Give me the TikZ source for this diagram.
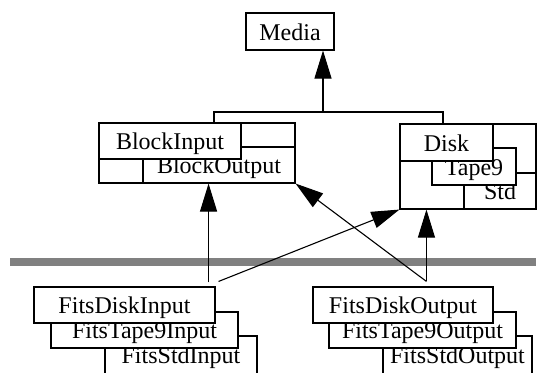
\documentclass[tikz,border=0pt]{standalone}
\usepackage{fontspec}
\setmainfont{Liberation Serif}
\usetikzlibrary{arrows.meta,calc}
\begin{document}
\begin{tikzpicture}[x=1pt,y=-1pt,
  box/.style={draw=black,fill=white,line width=1.1pt,inner sep=0pt,text height=19pt,text depth=2pt,font=\fontsize{24}{28}\selectfont},
  arr/.style={line width=1.1pt,-{Triangle[length=28pt,width=17pt]}},
  conn/.style={line width=1.1pt},
  band/.style={line width=8pt,draw={rgb,255:red,128;green,128;blue,128}}]
\useasboundingbox (0,0) rectangle (540,372);
\clip (0,0) rectangle (540,372);
% top
\node[box,minimum width=88pt,minimum height=37pt] (media) at (290,31.5) {Media};
% block group
\node[box,minimum width=196pt,minimum height=60pt] (bg) at (197,153) {};
\node[box,minimum width=152pt,minimum height=36pt] (bo) at (219,165) {BlockOutput};
\node[box,minimum width=142pt,minimum height=36pt] (bi) at (170,141) {BlockInput};
% disk group
\node[box,minimum width=136pt,minimum height=85pt] (dg) at (468,166.5) {};
\node[box,minimum width=72pt,minimum height=36pt] (std) at (500,191) {Std};
\node[box,minimum width=84pt,minimum height=37pt] (tape) at (474,166.5) {Tape9};
\node[box,minimum width=93pt,minimum height=37pt] (disk) at (446.5,142.5) {Disk};
% band
\draw[band] (10,262) coordinate (bandL) -- (536,262) coordinate (bandR);
% input group
\node[box,minimum width=152pt,minimum height=38pt] (fsi) at (181,355) {FitsStdInput};
\node[box,minimum width=187pt,minimum height=36pt] (fti) at (144.5,330) {FitsTape9Input};
\node[box,minimum width=181pt,minimum height=36pt] (fdi) at (124.5,305) {FitsDiskInput};
% output group
\node[box,minimum width=149pt,minimum height=38pt] (fso) at (457.5,355) {FitsStdOutput};
\node[box,minimum width=187pt,minimum height=36pt] (fto) at (422.5,330) {FitsTape9Output};
\node[box,minimum width=180pt,minimum height=36pt] (fdo) at (403,305) {FitsDiskOutput};
% inheritance bus
\coordinate (bus) at (323,112);
\draw[conn] ([xshift=17pt]bg.north) |- (bus) -| ([xshift=-25pt]dg.north);
\draw[arr] (bus) -- (bus |- media.south);
% arrows from lower groups
\coordinate (pi) at ([xshift=-7pt,yshift=4pt]fdi.north east);
\coordinate (pi2) at ([xshift=3pt,yshift=5pt]fdi.north east);
\coordinate (po) at ([xshift=114pt,yshift=5pt]fdo.north west);
\draw[arr] (pi) -- (pi |- bo.south);
\draw[arr] (pi2) -- (dg.south west);
\draw[arr] (po) -- (bo.south east);
\draw[arr] (po) -- (po |- dg.south);
\end{tikzpicture}
\end{document}
